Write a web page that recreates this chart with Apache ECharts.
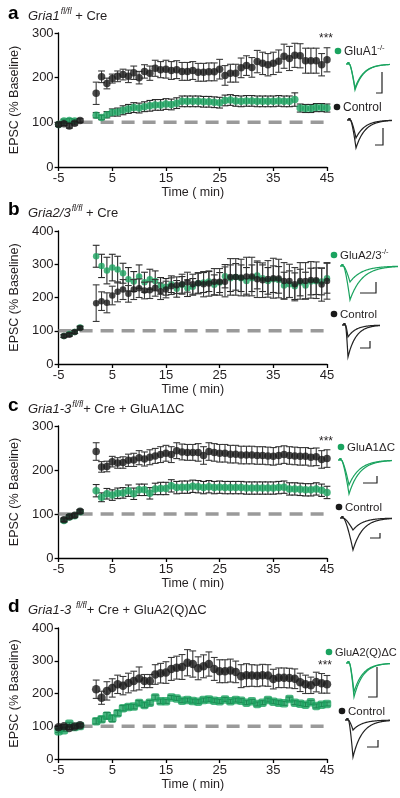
<!DOCTYPE html>
<html><head><meta charset="utf-8">
<script src="https://cdn.jsdelivr.net/npm/echarts@6/dist/echarts.min.js"></script>
<style>html,body{margin:0;padding:0;background:#fff}#c{width:400px;height:798px}</style>
</head><body><div id="c"></div><script>
// ---------- DATA ----------
const times = [-5,-4,-3,-2,-1,2,3,4,5,6,7,8,9,10,11,12,13,14,15,16,17,18,19,20,21,22,23,24,25,26,27,28,29,30,31,32,33,34,35,36,37,38,39,40,41,42,43,44,45];
const xTickValues = [-5,5,15,25,35,45];

// Panel a
const aCtrl    = [95,97,92,98,104, 165,202,187,198,203,207,203,211,200,214,210,221,218,219,216,218,214,214,216,212,212,213,213,219,205,210,210,222,227,223,236,232,229,232,237,248,243,250,249,238,238,238,229,240];
const aCtrlErr = [4,4,5,4,4, 25,13,12,10,12,12,14,15,14,15,16,18,18,20,20,20,20,20,20,20,20,20,20,22,22,20,20,22,22,22,25,25,25,25,25,27,27,27,27,28,28,28,25,27];
const aKO      = [95,103,104,103,null, 116,111,117,122,123,127,130,133,132,135,137,139,139,141,140,143,147,147,147,147,146,146,145,144,149,150,148,147,148,148,147,147,147,147,148,147,147,151,132,131,131,133,133,132];
const aKOErr   = [4,4,4,4,null, 6,5,7,8,9,10,10,11,11,11,12,12,12,12,12,12,12,12,12,12,12,12,12,12,12,12,12,12,12,12,12,12,12,12,12,12,12,15,9,9,9,9,9,9];

// Panel b
const bCtrl    = [null,84,88,96,108, 183,189,184,206,217,224,211,224,228,221,222,229,219,224,234,237,240,246,240,243,240,242,247,247,247,262,262,260,263,263,255,252,256,258,257,250,250,240,250,250,253,252,239,250];
const bCtrlErr = [null,4,5,4,4, 55,28,30,28,30,30,25,30,28,25,25,25,25,25,25,25,30,30,30,32,38,38,40,40,45,55,55,55,58,58,55,52,55,60,58,55,50,50,55,55,55,55,50,55];
const bKO      = [null,84,90,96,110, 324,295,281,290,284,273,255,248,263,246,255,250,235,232,240,226,238,228,232,243,245,248,238,245,264,258,262,258,250,258,266,258,250,255,253,236,240,234,245,236,248,249,248,258];
const bKOErr   = [null,4,4,4,4, 33,35,40,40,40,30,35,30,35,30,30,30,25,25,25,25,25,25,25,30,30,30,30,30,35,40,40,40,40,40,40,40,40,40,40,40,40,40,40,40,40,40,40,45];

// Panel c
const cCtrl    = [null,87,94,97,106, 242,207,208,219,216,217,222,223,228,225,229,232,235,238,235,244,241,240,240,240,233,242,240,238,238,236,236,234,234,234,233,233,232,231,233,235,233,232,231,231,229,230,224,226];
const cCtrlErr = [null,4,4,4,4, 20,12,12,12,12,13,14,15,16,16,17,17,18,18,18,18,18,18,18,20,20,20,20,20,20,20,20,20,20,20,20,20,20,20,20,20,20,20,20,20,20,20,20,20];
const cKO      = [null,85,93,96,105, 153,138,146,143,147,148,153,146,155,155,147,157,158,158,164,160,161,161,163,162,160,162,160,161,160,160,160,160,159,159,159,159,159,159,160,161,157,157,156,155,155,157,154,149];
const cKOErr   = [null,4,4,4,4, 14,10,12,12,12,12,13,13,13,13,13,13,14,14,14,14,14,14,14,14,14,14,14,14,14,14,14,14,14,14,14,14,14,14,14,14,14,14,14,14,14,14,14,14];

// Panel d
const dCtrl    = [97,100,95,99,103, 213,187,208,217,228,224,232,238,246,238,238,258,262,264,275,279,281,294,290,277,283,290,275,268,268,270,266,253,256,255,254,256,255,244,248,248,247,245,234,228,225,235,231,228];
const dCtrlErr = [5,5,5,5,5, 28,20,28,28,28,28,30,30,35,20,20,30,30,33,35,35,38,40,40,35,35,37,35,35,35,35,33,35,35,33,33,33,33,30,30,30,30,30,28,28,25,30,30,27];
const dKO      = [85,88,108,98,101, 115,121,132,124,140,155,159,160,171,165,172,188,176,176,188,185,178,180,177,175,180,182,178,176,182,176,180,178,172,176,168,172,180,175,172,170,183,172,169,166,173,162,166,168];
const dKOErr   = [4,4,4,4,4, 8,8,10,10,8,8,7,7,7,7,7,7,7,6,6,6,6,6,6,6,6,6,6,6,6,6,6,6,6,6,6,6,6,6,6,6,6,6,6,6,6,6,6,6];

const baselineLevel = 100;

// ---------- STYLE ----------
const GREEN = '#1aa35f';
const BLACK = '#1a1a1a';
const FONT = 'Liberation Sans, Arial, sans-serif';
const TXT = '#231f20';

const panels = [
  {ctrl:aCtrl, ctrlErr:aCtrlErr, ko:aKO, koErr:aKOErr, top:33, height:134, ymax:300, sym:7.5, koSym:'circle'},
  {ctrl:bCtrl, ctrlErr:bCtrlErr, ko:bKO, koErr:bKOErr, top:231, height:133, ymax:400, sym:6.5, koSym:'circle'},
  {ctrl:cCtrl, ctrlErr:cCtrlErr, ko:cKO, koErr:cKOErr, top:426, height:132, ymax:300, sym:7.5, koSym:'circle'},
  {ctrl:dCtrl, ctrlErr:dCtrlErr, ko:dKO, koErr:dKOErr, top:628, height:131, ymax:400, sym:8.5, koSym:'roundRect'}
];

function toXY(vals){ const out=[]; times.forEach((t,i)=>{ if(vals[i]!=null) out.push([t, vals[i]]); }); return out; }
function toXYE(vals, errs){ const out=[]; times.forEach((t,i)=>{ if(vals[i]!=null) out.push([t, vals[i], errs[i]]); }); return out; }

function errRender(color){
  return function(params, api){
    const x=api.value(0), y=api.value(1), e=api.value(2);
    const p1=api.coord([x,y+e]), p2=api.coord([x,y-e]);
    const h=3.4; const st={stroke:color, lineWidth:1.1};
    return {type:'group', children:[
      {type:'line', shape:{x1:p1[0],y1:p1[1],x2:p2[0],y2:p2[1]}, style:st},
      {type:'line', shape:{x1:p1[0]-h,y1:p1[1],x2:p1[0]+h,y2:p1[1]}, style:st},
      {type:'line', shape:{x1:p2[0]-h,y1:p2[1],x2:p2[0]+h,y2:p2[1]}, style:st}
    ]};
  };
}

const grid=[], xAxis=[], yAxis=[], series=[];
panels.forEach((p,k)=>{
  grid.push({left:50, width:277, top:p.top, height:p.height});
  xAxis.push({type:'value', gridIndex:k, min:-5, max:45, name:'Time ( min)', nameLocation:'middle', nameGap:18,
    nameTextStyle:{fontFamily:FONT, fontSize:12.5, color:TXT},
    axisLine:{onZero:false, lineStyle:{color:'#000', width:1.3}}, axisTick:{length:4, lineStyle:{color:'#000', width:1.3}, customValues:xTickValues},
    axisLabel:{fontFamily:FONT, fontSize:13, color:TXT, margin:5, customValues:xTickValues}, splitLine:{show:false}});
  yAxis.push({type:'value', gridIndex:k, min:0, max:p.ymax, interval:100, name:'EPSC (% Baseline)', nameLocation:'middle', nameGap:29,
    nameTextStyle:{fontFamily:FONT, fontSize:12.5, color:TXT},
    axisLine:{show:true, onZero:false, lineStyle:{color:'#000', width:1.3}}, axisTick:{show:true, length:4, lineStyle:{color:'#000', width:1.3}},
    axisLabel:{fontFamily:FONT, fontSize:13, color:TXT, margin:5}, splitLine:{show:false}});
  series.push({type:'line', xAxisIndex:k, yAxisIndex:k, data:[[-5,baselineLevel],[45,baselineLevel]], symbol:'none', silent:true,
    lineStyle:{color:'#9a9a9a', width:3.5, type:[13,8]}, z:1});
  series.push({type:'custom', xAxisIndex:k, yAxisIndex:k, data:toXYE(p.ko,p.koErr), renderItem:errRender('#2a2a2a'), encode:{x:0,y:1}, z:2});
  series.push({type:'scatter', xAxisIndex:k, yAxisIndex:k, data:toXY(p.ko), symbol:p.koSym, symbolSize:p.sym, itemStyle:{color:GREEN}, z:3});
  series.push({type:'custom', xAxisIndex:k, yAxisIndex:k, data:toXYE(p.ctrl,p.ctrlErr), renderItem:errRender('#3a3a3a'), encode:{x:0,y:1}, z:4});
  series.push({type:'scatter', xAxisIndex:k, yAxisIndex:k, data:toXY(p.ctrl), symbol:'circle', symbolSize:p.sym, itemStyle:{color:BLACK}, z:5});
});

// ---------- DECORATIONS (titles, legends, example traces) ----------
const graphic=[];
function letter(t, x, y){ graphic.push({type:'text', left:x, top:y, style:{text:t, font:'bold 19px '+FONT, fill:'#000'}}); }
function rt(x, y, text, size){
  graphic.push({type:'text', x:x, y:y, style:{text:text, fontFamily:FONT, fontSize:size, fill:TXT, verticalAlign:'middle',
    rich:{i:{fontStyle:'italic', fontSize:size, fontFamily:FONT, fill:TXT, lineHeight:size+4},
          si:{fontStyle:'italic', fontSize:size*0.65, fontFamily:FONT, fill:TXT, verticalAlign:'top', lineHeight:size+4, padding:[0,0,0,1]},
          s:{fontSize:size*0.65, fontFamily:FONT, fill:TXT, verticalAlign:'top', lineHeight:size+4},
          n:{fontSize:size, fontFamily:FONT, fill:TXT, lineHeight:size+4}}}});
}
function dot(cx, cy, color){ graphic.push({type:'circle', shape:{cx:cx, cy:cy, r:3.3}, style:{fill:color}}); }
function stars(x, y){ graphic.push({type:'text', x:x, y:y, style:{text:'***', font:'12px '+FONT, fill:TXT, align:'center', verticalAlign:'middle'}}); }
function trace(x0, xp, x1, base, peak, color){
  const pts=[[x0-2,base],[x0,base],[x0,base-1.5],[x0+0.8,base-1.5],[x0+0.8,base]];
  const xs=x0+1.5;
  for(let x=xs; x<=x1; x+=0.5){
    let y;
    if(x<xp) y=base+(peak-base)*Math.pow((x-xs)/(xp-xs),1.4);
    else y=base+(peak-base)*Math.exp(-(x-xp)/((x1-xp)/4));
    pts.push([x,y]);
  }
  graphic.push({type:'polyline', shape:{points:pts}, style:{stroke:color, lineWidth:1.2, fill:null}});
}
function scalebar(xv, yTop, yBot, xLeft){
  graphic.push({type:'polyline', shape:{points:[[xv,yTop],[xv,yBot],[xLeft,yBot]]}, style:{stroke:'#222', lineWidth:1.2, fill:null}});
}

// a
letter('a', 8, 4);
rt(28, 16, '{i|Gria1}{si|fl/fl}{n| + Cre}', 13);
stars(326, 39);
dot(338, 51, GREEN); rt(344, 52, '{n|GluA1}{s|-/-}', 12);
dot(337, 107, BLACK); rt(343, 108, '{n|Control}', 12);
trace(348, 355, 390, 64, 90, GREEN); trace(348, 355, 390, 64, 88, GREEN);
scalebar(382, 72, 93, 376);
trace(349, 356, 392, 120, 138, '#222'); trace(349, 356, 392, 120, 148, '#222');
scalebar(383, 128, 145, 375);

// b
letter('b', 8, 200);
rt(28, 213, '{i|Gria2/3}{si|fl/fl}{n| + Cre}', 13);
dot(334, 255, GREEN); rt(340, 256, '{n|GluA2/3}{s|-/-}', 11.5);
dot(334, 314, BLACK); rt(340, 315, '{n|Control}', 11.5);
trace(342, 350, 398, 266, 282, GREEN); trace(342, 350, 398, 266, 300, GREEN);
scalebar(376, 282, 293, 360);
trace(344, 348, 380, 325, 337, '#222'); trace(344, 348, 380, 325, 357, '#222');
scalebar(370, 341, 348, 360);

// c
letter('c', 8, 396);
rt(28, 409, '{i|Gria1-3}{si|fl/fl}{n|+ Cre + GluA1ΔC}', 13);
stars(326, 442);
dot(341, 447, GREEN); rt(347, 448, '{n|GluA1ΔC}', 11.5);
dot(339, 507, BLACK); rt(345, 508, '{n|Control}', 11.5);
trace(340, 349, 392, 460, 485, GREEN); trace(340, 349, 392, 460, 494, GREEN);
scalebar(377, 476, 483, 363);
trace(342, 353, 392, 518, 530, '#222'); trace(342, 353, 392, 518, 550, '#222');
scalebar(380, 533, 538, 370);

// d
letter('d', 8, 597);
rt(28, 610, '{i|Gria1-3 }{si|fl/fl}{n|+ Cre + GluA2(Q)ΔC}', 13);
stars(325, 666);
dot(329, 652, GREEN); rt(335, 653, '{n|GluA2(Q)ΔC}', 11);
dot(342, 711, BLACK); rt(348, 712, '{n|Control}', 11.5);
trace(348, 354, 390, 663, 692, GREEN); trace(348, 354, 390, 663, 697, GREEN);
scalebar(377, 667, 697, 368);
trace(347, 353, 390, 720, 730, '#222'); trace(347, 353, 390, 720, 757, '#222');
scalebar(378, 740, 747, 367);

const chart = echarts.init(document.getElementById('c'), null, {renderer:'canvas'});
chart.setOption({animation:false, backgroundColor:'#fff', grid, xAxis, yAxis, series, graphic});
</script></body></html>
